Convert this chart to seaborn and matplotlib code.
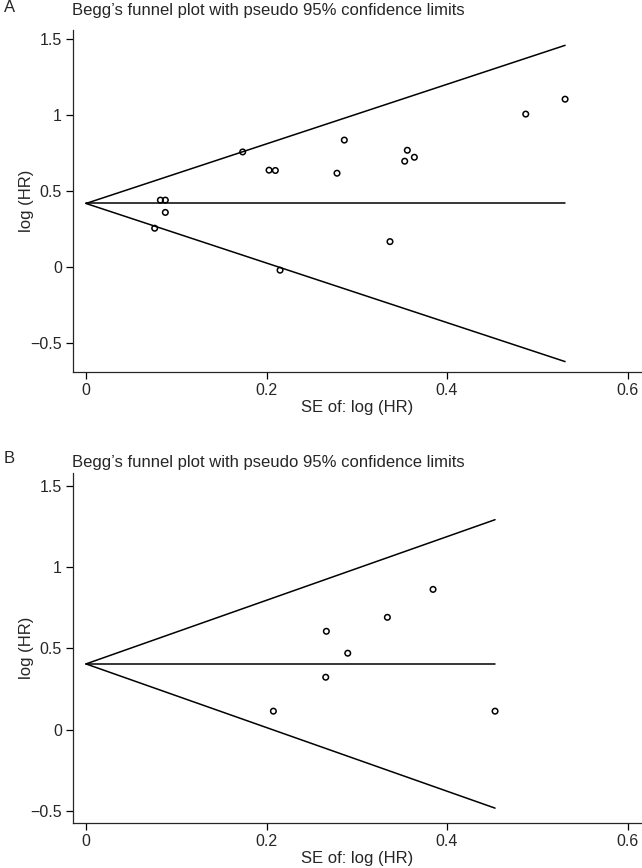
import numpy as np
import pandas as pd
import matplotlib
matplotlib.use("Agg")
import matplotlib.pyplot as plt
import seaborn as sns

# Panel A: standard error and log(HR) for each study
se_a = [0.0761, 0.0824, 0.0879, 0.0879, 0.1736, 0.2028, 0.2098, 0.2150,
        0.2781, 0.2862, 0.3368, 0.3531, 0.3560, 0.3638, 0.4872, 0.5308]
loghr_a = [0.256, 0.441, 0.441, 0.360, 0.758, 0.638, 0.636, -0.020,
           0.618, 0.836, 0.168, 0.697, 0.769, 0.723, 1.007, 1.105]
pooled_a = 0.419

# Panel B
se_b = [0.2076, 0.2656, 0.2663, 0.2900, 0.3339, 0.3845, 0.4532]
loghr_b = [0.113, 0.322, 0.605, 0.470, 0.691, 0.863, 0.113]
pooled_b = 0.404

title = "Begg\u2019s funnel plot with pseudo 95% confidence limits"
xticks = [0, 0.2, 0.4, 0.6]
xticklabels = ["0", "0.2", "0.4", "0.6"]
yticks = [-0.5, 0, 0.5, 1, 1.5]
yticklabels = ["\u22120.5", "0", "0.5", "1", "1.5"]

sns.set_style("ticks")
plt.rcParams['font.family'] = ['Liberation Sans', 'DejaVu Sans']
plt.rcParams['axes.linewidth'] = 0.9
plt.rcParams['xtick.major.width'] = 0.9
plt.rcParams['ytick.major.width'] = 0.9

H = 868
fig = plt.figure(figsize=(6.42, 8.68), dpi=100)


def funnel(ax, se, loghr, pooled, ylim, letter, title_px):
    se_max = max(se)
    grid = pd.DataFrame({"se": [0, se_max]})
    grid["upper"] = pooled + 1.96 * grid["se"]
    grid["lower"] = pooled - 1.96 * grid["se"]
    grid["mid"] = pooled
    for col in ["upper", "mid", "lower"]:
        sns.lineplot(data=grid, x="se", y=col, ax=ax, color="black",
                     linewidth=1.1, estimator=None)
    df = pd.DataFrame({"se": se, "loghr": loghr})
    sns.scatterplot(data=df, x="se", y="loghr", ax=ax, marker="o",
                    facecolor="none", edgecolor="black", s=16, linewidth=1.1,
                    zorder=3)
    ax.set_xlim(-0.0144, 0.616)
    ax.set_ylim(*ylim)
    ax.set_xticks(xticks)
    ax.set_xticklabels(xticklabels)
    ax.set_yticks(yticks)
    ax.set_yticklabels(yticklabels)
    ax.tick_params(labelsize=11.5, length=5, color="black", pad=3)
    ax.set_xlabel("SE of: log (HR)", fontsize=12, labelpad=1)
    ax.set_ylabel("log (HR)", fontsize=12, labelpad=-2.5)
    for sp in ["top", "right"]:
        ax.spines[sp].set_visible(False)
    fig.text(0.112, 1 - title_px / H, title, fontsize=12,
             ha="left", va="center")
    fig.text(0.006, 1 - (title_px - 3) / H, letter, fontsize=12,
             ha="left", va="center")


ax_a = fig.add_axes([0.1137, 0.5714, 0.8863, 0.394])
funnel(ax_a, se_a, loghr_a, pooled_a, (-0.69, 1.56), "A", 11)

ax_b = fig.add_axes([0.1137, 0.0518, 0.8863, 0.4033])
funnel(ax_b, se_b, loghr_b, pooled_b, (-0.576, 1.58), "B", 462)

fig.savefig("out.png", dpi=100)
